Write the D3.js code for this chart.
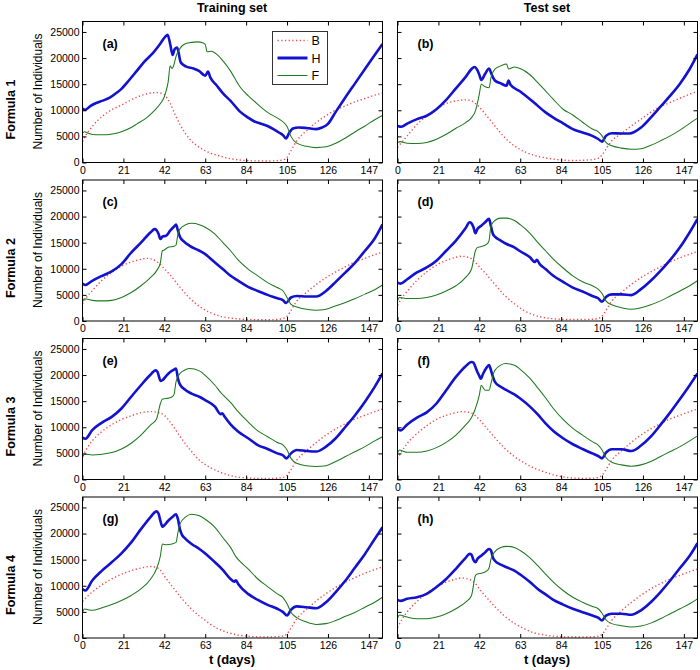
<!DOCTYPE html>
<html><head><meta charset="utf-8">
<script src="https://cdn.jsdelivr.net/npm/d3@7"></script>
<style>body{margin:0;background:#fff}svg{display:block}text{font-family:"Liberation Sans",Arial,Helvetica,sans-serif}</style>
</head><body><svg id="c" width="700" height="670"></svg>
<script>
const xTicks=[0,21,42,63,84,105,126,147];
const yTicks=[0,5000,10000,15000,20000,25000];
const columnTitles=["Training set","Test set"];
const rowLabels=["Formula 1","Formula 2","Formula 3","Formula 4"];
const panelLabels=["(a)","(b)","(c)","(d)","(e)","(f)","(g)","(h)"];
const seriesNames=["B","H","F"];
const xLabel="t (days)", yLabel="Number of Individuals";

const B_a=[[0,4000],[2,5400],[5,6900],[10,8800],[15,10100],[20,11000],[25,12000],[30,12800],[35,13300],[38,13400],[40,13300],[42,13000],[45,11300],[48,8800],[50,7300],[55,4500],[60,2900],[65,1900],[70,1300],[75,800],[80,500],[85,350],[90,300],[95,300],[100,350],[103,500],[105,950],[107,2250],[110,4150],[115,6100],[120,7700],[125,8950],[130,10050],[135,10850],[140,11650],[145,12250],[150,12900],[154,13300]];
const H_a=[[0,10300],[1.5,10100],[4,10800],[7,11400],[10,11800],[14,12400],[17,13200],[20,14100],[24,15800],[28,17600],[32,19400],[36,20900],[40,22800],[42.5,24100],[43.7,24450],[45,22700],[46.3,20600],[47.3,21700],[48.6,22000],[50.4,19200],[53,18400],[57,18000],[60,17500],[63,16600],[64.4,17400],[65.6,16300],[69,14700],[72,13300],[76,11800],[81,9700],[85,8600],[88,7900],[91,7500],[95,7000],[98,6400],[101,5700],[103,5200],[104.5,4600],[106,5600],[108,6500],[111,6700],[115,6600],[120,6400],[123,6700],[126,7400],[130,9700],[135,12500],[140,15200],[145,17900],[150,20600],[154,22700]];
const F_a=[[0,5600],[1,5900],[3,5600],[7,5300],[12,5300],[16,5500],[20,5900],[25,6700],[28,7400],[33,8600],[37,10000],[40,11300],[42,12600],[43,13800],[44,15500],[45,18500],[46,18000],[47,18800],[48,20300],[50,21800],[52,22600],[56,23000],[59,23100],[62,22900],[63,22600],[64,21200],[66,21300],[69,20700],[72,19500],[76,17500],[81,14400],[85,12800],[88,11800],[95,9600],[101,8300],[104,7400],[105,6900],[107,5000],[110,3700],[115,3100],[120,2850],[125,3000],[130,3700],[135,4700],[140,5900],[145,7000],[150,8200],[154,9000]];

const B_b=[[0,2900],[2,3800],[5,5100],[10,7300],[15,8900],[20,10200],[25,11300],[30,11800],[35,12000],[38,11800],[40,11300],[42,10600],[45,9300],[50,7000],[55,4800],[60,3200],[65,2100],[70,1400],[75,950],[80,650],[85,450],[90,380],[95,420],[100,550],[103,800],[105,1450],[107,2550],[110,4150],[115,5550],[120,7000],[125,8300],[130,9600],[135,10700],[140,11500],[145,12300],[150,13100],[154,13600]];
const H_b=[[0,7000],[2,6850],[5,7450],[10,8300],[15,8950],[20,10200],[25,12000],[30,14200],[35,16400],[38,17900],[39.5,18300],[41,17700],[42,16800],[43,15800],[45,17000],[47,18000],[48,17200],[49,16300],[50,15700],[53,15150],[56,14700],[57,15700],[58,14900],[63,13600],[70,11500],[76,9600],[80,8600],[85,7500],[90,6400],[95,5750],[100,5100],[103,4500],[105,4000],[107,5100],[110,5600],[115,5550],[119,5550],[125,6700],[130,8600],[135,10700],[140,12800],[145,15100],[150,17900],[154,20700]];
const F_b=[[0,3800],[1.5,4000],[5,3700],[10,3650],[15,3850],[20,4450],[25,5400],[30,6550],[35,7650],[38,8600],[40,9900],[42,13100],[43,15000],[45,14500],[47,14300],[48,16300],[50,17900],[53,18500],[56,18850],[57,17900],[60,18300],[63,18000],[68,16800],[72,15300],[76,13700],[80,12100],[85,10200],[90,9100],[95,7700],[100,6400],[103,5900],[105,5100],[107,3850],[110,3200],[115,2750],[120,2550],[125,2650],[130,3300],[135,4150],[140,5100],[145,6200],[150,7500],[154,8500]];

const B_c=[[0,3300],[2,4500],[5,5800],[10,7800],[15,9300],[20,10500],[25,11300],[30,11800],[33,12000],[35,11900],[38,11400],[40,10800],[42,10000],[45,8800],[50,6500],[55,4400],[60,2800],[65,1700],[70,1000],[75,600],[80,400],[85,300],[90,250],[95,250],[100,300],[103,500],[105,900],[107,2000],[110,3800],[115,5500],[120,7000],[125,8300],[130,9400],[135,10400],[140,11300],[145,12000],[150,12700],[154,13200]];
const H_c=[[0,7200],[1.5,6900],[5,7700],[10,8650],[15,9500],[20,10900],[25,13100],[30,15000],[35,17000],[37,17600],[38,17400],[39,16700],[40,15700],[41,16150],[43,16350],[45,17300],[47,18100],[48,18450],[49,17300],[50,16150],[52,15250],[55,14400],[60,13450],[63,12800],[68,11200],[72,9950],[76,8650],[80,7700],[85,6550],[90,5750],[95,5000],[100,4350],[103,3950],[104.5,3450],[107,4500],[110,4800],[115,4700],[120,4700],[125,5750],[130,7500],[135,9300],[140,11200],[145,13450],[150,15800],[154,18500]];
const F_c=[[0,3700],[1,4250],[5,3950],[10,3850],[15,3950],[20,4500],[25,5450],[30,6750],[35,8350],[38,9600],[40,11200],[41,13450],[42,13600],[44,14100],[47,14300],[48,14550],[49,16650],[50,17600],[53,18450],[56,18700],[60,18450],[63,17950],[68,16650],[72,15050],[76,13450],[80,11650],[85,9950],[90,8650],[95,7350],[100,6400],[103,5750],[105,4500],[107,3200],[110,2700],[115,2250],[120,2050],[125,2250],[130,2900],[135,3550],[140,4300],[145,5150],[150,6000],[154,6900]];

const B_d=[[0,3000],[2,4300],[5,5700],[10,7800],[15,9400],[20,10700],[25,11600],[30,12200],[33,12400],[35,12300],[38,11900],[40,11200],[42,10400],[45,9200],[50,7000],[55,4900],[60,3300],[65,2000],[70,1150],[75,680],[80,430],[85,320],[90,280],[95,280],[100,330],[103,500],[105,900],[107,2000],[110,3800],[115,5500],[120,7000],[125,8300],[130,9400],[135,10400],[140,11300],[145,12100],[150,12800],[154,13300]];
const H_d=[[0,7350],[1.5,7150],[5,8000],[10,9300],[15,10250],[20,11550],[25,13450],[30,15400],[35,17800],[37,18900],[38,18700],[39,17950],[40,16800],[41,17600],[43,18250],[45,18900],[47,19550],[48,18100],[49,16650],[50,16150],[53,15400],[56,14750],[60,14100],[63,13350],[68,12200],[70.5,11300],[71.5,11700],[73,10900],[76,9950],[80,8650],[85,7500],[90,6400],[95,5650],[100,4800],[103,4350],[105,3700],[107,4600],[110,5100],[115,5100],[120,4950],[125,6100],[130,7700],[135,9600],[140,11700],[145,14100],[150,17000],[154,19550]];
const F_d=[[0,3850],[1,4500],[5,4300],[10,4300],[15,4500],[20,5000],[25,5750],[30,6750],[35,8350],[38,9950],[40,13450],[41,14100],[43,14250],[46,14750],[47,15400],[48,18250],[50,19250],[53,19700],[56,19700],[60,19250],[63,18450],[68,16800],[71,15500],[72,15050],[76,13450],[80,11850],[85,10150],[90,8650],[95,7500],[100,6750],[103,6100],[105,5250],[107,3850],[110,3100],[115,2550],[120,2250],[125,2550],[130,3100],[135,3850],[140,4800],[145,5750],[150,6750],[154,7700]];

const B_e=[[0,4500],[2,5800],[5,7400],[10,9200],[15,10500],[20,11500],[25,12200],[30,12800],[35,13000],[38,12900],[40,12700],[42,12300],[45,11000],[50,8300],[55,5800],[60,3700],[65,2400],[70,1500],[75,850],[80,450],[85,280],[90,200],[95,200],[100,250],[103,400],[105,800],[107,1900],[110,3700],[115,5500],[120,7100],[125,8500],[130,9700],[135,10700],[140,11600],[145,12300],[150,13000],[154,13500]];
const H_e=[[0,8000],[1.5,7800],[5,9450],[10,10900],[15,12000],[20,13600],[25,15850],[30,18050],[35,20100],[37.5,20900],[38.5,20600],[39.3,19650],[40,18850],[41,19000],[43,19850],[45,20600],[47,21050],[48,21250],[49,19350],[50,18200],[53,17100],[56,16450],[60,15850],[63,15200],[68,13950],[71,12500],[71.7,12700],[73,12000],[76,10550],[80,9150],[85,7900],[90,6600],[95,5850],[100,5000],[103,4600],[104.7,4050],[107,5000],[110,5650],[115,5450],[120,5350],[125,6300],[130,7900],[135,10100],[140,12350],[145,14900],[150,17750],[154,20300]];
const F_e=[[0,4200],[1,4850],[5,4700],[10,4850],[15,5150],[20,5850],[25,6950],[30,8500],[35,10450],[38,11600],[40,14550],[41,15400],[43,15500],[46,15850],[47,16300],[48,18700],[50,20300],[53,21050],[55,21250],[60,20800],[63,19950],[68,18050],[71,16650],[72,16250],[76,14750],[80,12950],[85,11050],[90,9300],[95,8200],[100,7100],[103,6600],[105,5650],[107,4050],[110,3100],[115,2650],[120,2500],[125,2650],[130,3450],[135,4400],[140,5350],[145,6300],[150,7400],[154,8200]];

const B_f=[[0,4000],[2,5300],[5,6900],[10,8800],[15,10300],[20,11500],[25,12300],[30,12800],[33,13000],[35,12950],[38,12700],[40,12200],[42,11500],[45,10200],[50,8000],[55,6000],[60,4400],[65,3200],[70,2200],[75,1500],[80,900],[85,500],[90,280],[95,220],[100,250],[103,400],[105,800],[107,1900],[110,3700],[115,5500],[120,7100],[125,8500],[130,9700],[135,10700],[140,11600],[145,12300],[150,13000],[154,13500]];
const H_f=[[0,9700],[1.5,9400],[5,10550],[10,11850],[15,12850],[20,14550],[25,17100],[30,19650],[35,21700],[38,22500],[39,22400],[40,21550],[41,20600],[42,19850],[42.7,19300],[44,20300],[46,21550],[47,21900],[48,20900],[49,19650],[50,18700],[53,17750],[56,17100],[60,16300],[63,15500],[68,13950],[72,12450],[76,10750],[80,9300],[85,7900],[90,6750],[95,5850],[100,5000],[103,4500],[105,4050],[107,5150],[110,5800],[115,5800],[120,5450],[125,6500],[130,8200],[135,10450],[140,12850],[145,15400],[150,18050],[154,20300]];
const F_f=[[0,5100],[1,5650],[5,5200],[10,5200],[15,5450],[20,6100],[25,7100],[30,8500],[35,10450],[38,11850],[40,13600],[42,16150],[43,18050],[44,17550],[45,17100],[47,17100],[48,18400],[49,19950],[50,20900],[53,21900],[55.5,22200],[60,21900],[63,21100],[68,19350],[72,17550],[76,15650],[80,13600],[85,11500],[90,9800],[95,8500],[100,7250],[103,6600],[105,5650],[107,4200],[110,3300],[115,2800],[120,2550],[125,2800],[130,3450],[135,4400],[140,5350],[145,6300],[150,7400],[154,8350]];

const B_g=[[0,7000],[2,7800],[5,8800],[10,10200],[15,11300],[20,12200],[25,12900],[30,13400],[35,13700],[38,13500],[40,13000],[42,11900],[45,10400],[50,8000],[55,5900],[60,4200],[63,3400],[65,2800],[70,1700],[75,1000],[80,550],[85,330],[90,220],[95,200],[100,250],[103,400],[105,800],[107,1900],[110,3700],[115,5500],[120,7100],[125,8500],[130,9700],[135,10700],[140,11600],[145,12400],[150,13100],[154,13600]];
const H_g=[[0,9400],[1.5,9100],[5,11000],[10,12900],[15,14500],[20,16200],[25,18300],[30,20850],[35,23200],[37,24050],[38,24250],[39,23850],[40,22450],[41,21300],[42,21600],[44,22450],[46,23100],[48,23700],[49,22750],[50,20850],[51,19800],[53,18950],[56,18000],[60,17050],[63,16200],[68,14500],[72,13050],[76,11300],[78,10800],[78.7,11050],[80,10300],[85,8450],[90,7300],[95,6350],[100,5600],[103,4950],[105,4300],[107,5400],[110,6050],[115,5900],[120,5700],[125,6850],[130,8800],[135,11000],[140,13550],[145,16100],[150,18950],[154,21200]];
const F_g=[[0,4900],[1,5550],[5,5300],[10,5800],[15,6400],[20,7200],[25,8150],[30,9400],[35,11300],[38,13250],[40,15750],[41,18000],[43,17850],[46,18000],[48,18300],[49,20200],[50,21800],[53,23200],[56,23700],[60,23400],[63,22750],[68,21200],[72,19250],[76,17350],[79,15450],[80,15000],[85,13250],[90,11300],[95,9850],[100,8450],[103,7700],[105,6550],[107,4950],[110,3900],[115,3050],[120,2600],[125,2750],[130,3350],[135,4150],[140,4950],[145,5900],[150,6850],[154,7800]];

const B_h=[[0,2000],[2,3400],[5,5000],[10,7000],[15,8600],[20,9800],[25,10700],[30,11300],[33,11500],[35,11400],[38,11000],[40,10400],[42,9400],[45,8100],[50,6000],[55,4200],[60,2800],[65,1800],[70,1000],[75,600],[80,350],[85,220],[90,180],[95,180],[100,220],[103,350],[105,700],[107,1700],[110,3400],[115,5200],[120,6800],[125,8200],[130,9400],[135,10400],[140,11300],[145,12000],[150,12700],[154,13200]];
const H_h=[[0,7300],[1.5,7100],[5,7500],[10,7800],[15,8450],[20,9750],[25,11300],[30,13250],[35,15350],[37,16100],[38,15950],[39,14950],[40,14500],[41,15150],[43,15750],[45,16400],[47,17050],[48,16750],[49,15350],[50,14800],[53,14050],[56,13550],[60,12900],[63,12150],[68,10700],[72,9400],[76,8350],[80,7300],[85,6400],[90,5600],[95,4950],[100,4300],[103,3900],[105,3350],[107,4300],[110,4650],[115,4650],[120,4450],[125,5300],[130,6850],[135,8800],[140,11000],[145,13400],[150,15750],[154,18150]];
const F_h=[[0,3800],[1,4400],[5,4000],[10,3700],[15,3700],[20,4000],[25,4650],[30,5600],[35,6850],[38,8150],[40,11950],[41,12250],[43,12400],[46,12900],[47,13400],[48,15150],[50,16550],[53,17350],[56,17550],[60,17350],[63,16750],[68,15350],[72,13850],[76,12250],[80,10700],[85,9100],[90,7800],[95,6850],[100,6050],[103,5600],[105,4750],[107,3500],[110,2750],[115,2350],[120,2100],[125,2300],[130,2850],[135,3700],[140,4650],[145,5600],[150,6550],[154,7500]];

const seriesData=[[B_a,H_a,F_a],[B_b,H_b,F_b],[B_c,H_c,F_c],[B_d,H_d,F_d],[B_e,H_e,F_e],[B_f,H_f,F_f],[B_g,H_g,F_g],[B_h,H_h,F_h]];

const FONT='"Liberation Sans",Arial,Helvetica,sans-serif';
const colX=[82,397], rowY=[21,179.5,338,496.5], W=300, PH=141;
const styles=[
  {stroke:"#f24b4b",width:1.4,dash:"1.3,2.4"},
  {stroke:"#1212cf",width:2.6,dash:null},
  {stroke:"#1d7a1d",width:1.05,dash:null}
];
const x=d3.scaleLinear().domain([0,154]).range([0,W]);
const y=d3.scaleLinear().domain([0,27000]).range([PH,0]);
const line=d3.line().x(d=>x(d[0])).y(d=>y(d[1])).curve(d3.curveMonotoneX);
const svg=d3.select("#c");
const defs=svg.append("defs");
defs.append("clipPath").attr("id","clip").append("rect").attr("x",0).attr("y",0).attr("width",W).attr("height",PH);

function styleAxis(g){
  g.select(".domain").remove();
  g.selectAll(".tick line").attr("stroke","#000");
  g.selectAll("text").attr("font-family",FONT).attr("font-size",10.5).attr("fill","#000");
}

seriesData.forEach((sd,i)=>{
  const row=Math.floor(i/2), col=i%2;
  const g=svg.append("g").attr("transform",`translate(${colX[col]+0.5},${rowY[row]+0.5})`);
  const plot=g.append("g").attr("clip-path","url(#clip)");
  sd.forEach((data,k)=>{
    const st=styles[k];
    const p=plot.append("path").datum(data).attr("d",line).attr("fill","none")
      .attr("stroke",st.stroke).attr("stroke-width",st.width).attr("stroke-linejoin","round");
    if(st.dash) p.attr("stroke-dasharray",st.dash);
  });
  g.append("g").attr("transform",`translate(0,${PH})`)
    .call(d3.axisBottom(x).tickValues(xTicks).tickSize(-4).tickPadding(4)).call(styleAxis);
  g.append("g").call(d3.axisTop(x).tickValues(xTicks).tickSize(-4).tickFormat(()=>"")).call(styleAxis);
  g.append("g").call(d3.axisLeft(y).tickValues(yTicks).tickSize(-4).tickPadding(3)
      .tickFormat(col===0?d3.format("d"):()=>"")).call(styleAxis);
  g.append("g").attr("transform",`translate(${W},0)`)
    .call(d3.axisRight(y).tickValues(yTicks).tickSize(-4).tickFormat(()=>"")).call(styleAxis);
  g.append("rect").attr("width",W).attr("height",PH).attr("fill","none").attr("stroke","#000").attr("stroke-width",1);
  g.append("text").attr("x",20).attr("y",26).attr("font-weight","bold").attr("font-size",12.5)
    .attr("font-family",FONT).text(panelLabels[i]);
  if(col===0){
    svg.append("text").attr("transform",`translate(42,${rowY[row]+PH/2}) rotate(-90)`)
      .attr("text-anchor","middle").attr("font-size",12).attr("font-family",FONT).text(yLabel);
    svg.append("text").attr("transform",`translate(15,${rowY[row]+PH/2+18}) rotate(-90)`)
      .attr("text-anchor","middle").attr("font-size",12.5).attr("font-weight","bold").attr("font-family",FONT).text(rowLabels[row]);
  }
  if(i===0){
    const lg=g.append("g").attr("transform","translate(190,10)");
    lg.append("rect").attr("width",55).attr("height",53).attr("fill","#fff").attr("stroke","#333").attr("stroke-width",1);
    seriesNames.forEach((nm,k)=>{
      const st=styles[k];
      const yy=9+k*17.5;
      const l=lg.append("line").attr("x1",5).attr("x2",35).attr("y1",yy).attr("y2",yy)
        .attr("stroke",st.stroke).attr("stroke-width",k===1?3:st.width);
      if(st.dash) l.attr("stroke-dasharray",st.dash);
      lg.append("text").attr("x",39).attr("y",yy+4.5).attr("font-size",12.5).attr("font-family",FONT).text(nm);
    });
  }
});
columnTitles.forEach((t,c)=>{
  svg.append("text").attr("x",colX[c]+W/2).attr("y",12).attr("text-anchor","middle")
    .attr("font-weight","bold").attr("font-size",12.5).attr("font-family",FONT).text(t);
  svg.append("text").attr("x",colX[c]+W/2).attr("y",664).attr("text-anchor","middle")
    .attr("font-weight","bold").attr("font-size",13).attr("font-family",FONT).text(xLabel);
});
</script></body></html>
